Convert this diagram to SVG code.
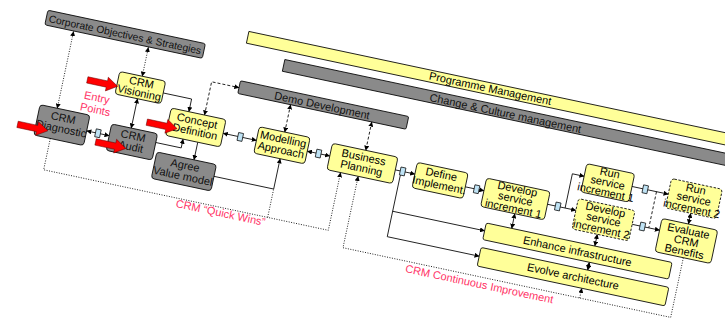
<svg xmlns="http://www.w3.org/2000/svg" width="725" height="320" viewBox="0 0 725 320">
<defs>
<style>
.y{fill:#FFFF99;stroke:#000;stroke-width:0.8}
.g{fill:#8A8A8A;stroke:#000;stroke-width:0.8}
.dsh{stroke-dasharray:2.5 1.5}
.t{font-family:"Liberation Sans",Arial,sans-serif;font-size:11px;text-anchor:middle;fill:#000}
.gt{fill:#111}
.sm{font-size:10.3px}
.lbl{font-family:"Liberation Sans",Arial,sans-serif;font-size:11px;text-anchor:middle;fill:#FF3366}
.ln{fill:none;stroke:#000;stroke-width:0.8}
.dot{stroke-dasharray:1 1.5}
.dash{stroke-dasharray:3 2}
.sq{fill:#BFE3F5;stroke:#000;stroke-width:0.7}
.ra{fill:#FF0000;stroke:#600;stroke-width:0.5}
</style>
<marker id="ah" viewBox="0 0 8 8" refX="7.5" refY="4" markerWidth="5" markerHeight="5" orient="auto-start-reverse" markerUnits="userSpaceOnUse">
<path d="M0,0 L8,4 L0,8 z" fill="#000"/>
</marker>
<path id="redarrow" d="M0,-3.2 L20,-3.2 L20,-7 L31,0 L20,7 L20,3.2 L0,3.2 z"/>
</defs>
<rect width="725" height="320" fill="#fff"/>
<g transform="rotate(12)">
<g id="prog"><rect class="y" x="250" y="-21" width="560" height="12"/><text class="t" x="498" y="-11.5">Programme Management</text></g>
<g id="change"><rect class="g" x="291" y="-1" width="520" height="12"/><text class="t gt" x="518" y="9.5">Change &amp; Culture management</text></g>
<g id="demo"><rect class="g" x="252" y="29" width="172" height="13" rx="1.5"/><text class="t gt" x="337" y="40">Demo Development</text></g>
<g id="corp"><rect class="g" x="49" y="0" width="161" height="15" rx="2"/><text class="t gt sm" x="129.5" y="11.5">Corporate Objectives &amp; Strategies</text></g>

<g id="connectors">
<path class="ln dot" d="M78.5,15.5 V94" marker-start="url(#ah)" marker-end="url(#ah)"/>
<path class="ln dot" d="M155,15.5 V45" marker-start="url(#ah)" marker-end="url(#ah)"/>
<path class="ln" d="M155,68 V98" marker-start="url(#ah)" marker-end="url(#ah)"/>
<path class="ln" d="M179,57 H208 V70" marker-end="url(#ah)"/>
<path class="ln" d="M182,107 H208 V98" marker-end="url(#ah)"/>
<path class="ln" d="M223,98 V116" marker-end="url(#ah)"/>
<path class="ln" d="M112,110 H135" marker-start="url(#ah)" marker-end="url(#ah)"/>
<path class="ln" d="M246,84 H280" marker-start="url(#ah)" marker-end="url(#ah)"/>
<path class="ln" d="M332,84 H355" marker-start="url(#ah)" marker-end="url(#ah)"/>
<path class="ln dash" d="M224,70 V36 H252" marker-start="url(#ah)" marker-end="url(#ah)"/>
<path class="ln dash" d="M306,42 V70" marker-start="url(#ah)" marker-end="url(#ah)"/>
<path class="ln dash" d="M389,42 V71" marker-start="url(#ah)" marker-end="url(#ah)"/>
<path class="ln" d="M422,84 H442" marker-end="url(#ah)"/>
<path class="ln" d="M494,86 H513" marker-end="url(#ah)"/>
<path class="ln" d="M428,88 V151"/>
<path class="ln" d="M428,125 H522" marker-end="url(#ah)"/>
<path class="ln" d="M428,151 H522" marker-end="url(#ah)"/>
<path class="ln" d="M578,86 H607" marker-end="url(#ah)"/>
<path class="ln" d="M596,86 V51 H608" marker-end="url(#ah)"/>
<path class="ln" d="M657,51 H694" marker-end="url(#ah)"/>
<path class="ln" d="M665,88 H693" marker-end="url(#ah)"/>
<path class="ln dash" d="M682,51 V88"/>
<path class="ln" d="M720,65 V76" marker-start="url(#ah)" marker-end="url(#ah)"/>
<path class="ln" d="M548,102 V117" marker-start="url(#ah)" marker-end="url(#ah)"/>
<path class="ln" d="M633,105 V117" marker-start="url(#ah)" marker-end="url(#ah)"/>
<path class="ln" d="M631,134 V142" marker-start="url(#ah)" marker-end="url(#ah)"/>
<path class="ln dot" d="M78,125 V157 H369 V98" marker-end="url(#ah)"/>
<path class="ln dot" d="M307,157 V128"/>
<path class="ln" d="M246,128 H307 V97" marker-end="url(#ah)"/>
<path class="ln dot" d="M722,110 V171 H387 V98" marker-end="url(#ah)"/>
<path class="ln dot" d="M629,171 V161" marker-end="url(#ah)"/>
<rect class="sq" x="121" y="106" width="5" height="8"/>
<rect class="sq" x="261" y="80" width="5" height="8"/>
<rect class="sq" x="341" y="80" width="5" height="8"/>
<rect class="sq" x="427" y="80" width="5" height="8"/>
<rect class="sq" x="503" y="82" width="5" height="8"/>
<rect class="sq" x="586" y="82" width="5" height="8"/>
<rect class="sq" x="668" y="47" width="5" height="8"/>
<rect class="sq" x="673" y="84" width="5" height="8"/>
</g>

<g id="vis"><rect class="y" x="132" y="45" width="47" height="23" rx="3"/><text class="t" x="155.5" y="55">CRM</text><text class="t" x="155.5" y="65.5">Visioning</text></g>
<g id="diag"><rect class="g" x="61" y="94" width="51" height="31" rx="3"/><text class="t gt" x="86.5" y="106">CRM</text><text class="t gt" x="86.5" y="117">Diagnostic</text></g>
<g id="audit"><rect class="g" x="135" y="98" width="47" height="27" rx="3"/><text class="t gt" x="158.5" y="109">CRM</text><text class="t gt" x="158.5" y="120">Audit</text></g>
<g id="concept"><rect class="y" x="190" y="70" width="56" height="28" rx="3"/><text class="t" x="218" y="81">Concept</text><text class="t" x="218" y="92">Definition</text></g>
<g id="agree"><rect class="g" x="185" y="116" width="61" height="27" rx="3"/><text class="t gt" x="215.5" y="127">Agree</text><text class="t gt" x="215.5" y="138">Value model</text></g>
<g id="model"><rect class="y" x="280" y="70" width="52" height="27" rx="3"/><text class="t" x="306" y="81">Modelling</text><text class="t" x="306" y="92">Approach</text></g>
<g id="bp"><rect class="y" x="355" y="71" width="67" height="27" rx="3"/><text class="t" x="388.5" y="82">Business</text><text class="t" x="388.5" y="93">Planning</text></g>
<g id="define"><rect class="y" x="442" y="72" width="52" height="26" rx="3"/><text class="t" x="468" y="82.5">Define</text><text class="t" x="468" y="93.5">Implement.</text></g>
<g id="dev1"><rect class="y" x="513" y="73" width="65" height="29" rx="3"/><text class="t" x="545.5" y="81">Develop</text><text class="t" x="545.5" y="91">service</text><text class="t" x="545.5" y="101">increment 1</text></g>
<g id="run1"><rect class="y" x="608" y="38" width="49" height="29" rx="3"/><text class="t" x="632.5" y="46">Run</text><text class="t" x="632.5" y="56">service</text><text class="t" x="632.5" y="66">increment 1</text></g>
<g id="dev2"><rect class="y dsh" x="607" y="74" width="58" height="31" rx="3"/><text class="t" x="636" y="83">Develop</text><text class="t" x="636" y="93">service</text><text class="t" x="636" y="103">increment 2</text></g>
<g id="run2"><rect class="y dsh" x="694" y="35" width="52" height="30" rx="3"/><text class="t" x="720" y="44">Run</text><text class="t" x="720" y="54">service</text><text class="t" x="720" y="64">increment 2</text></g>
<g id="eval"><rect class="y" x="693" y="76" width="57" height="34" rx="3"/><text class="t" x="721.5" y="86.5">Evaluate</text><text class="t" x="721.5" y="97">CRM</text><text class="t" x="721.5" y="107.5">Benefits</text></g>
<g id="enh"><rect class="y" x="522" y="117" width="190" height="17" rx="2"/><text class="t" x="617" y="129.5">Enhance infrastructure</text></g>
<g id="evo"><rect class="y" x="522" y="142" width="192" height="19" rx="2"/><text class="t" x="618" y="155">Evolve architecture</text></g>

<g id="labels">
<text class="lbl" x="115" y="79">Entry</text>
<text class="lbl" x="116" y="91">Points</text>
<text class="lbl" x="260" y="166">CRM “Quick Wins”</text>
<text class="lbl" x="528" y="182">CRM Continuous Improvement</text>
</g>
<g id="entry-arrows">
<use href="#redarrow" class="ra" transform="translate(102,60)"/>
<use href="#redarrow" class="ra" transform="translate(43,118)"/>
<use href="#redarrow" class="ra" transform="translate(123,119)"/>
<use href="#redarrow" class="ra" transform="translate(169,89)"/>
</g>
</g>
</svg>
